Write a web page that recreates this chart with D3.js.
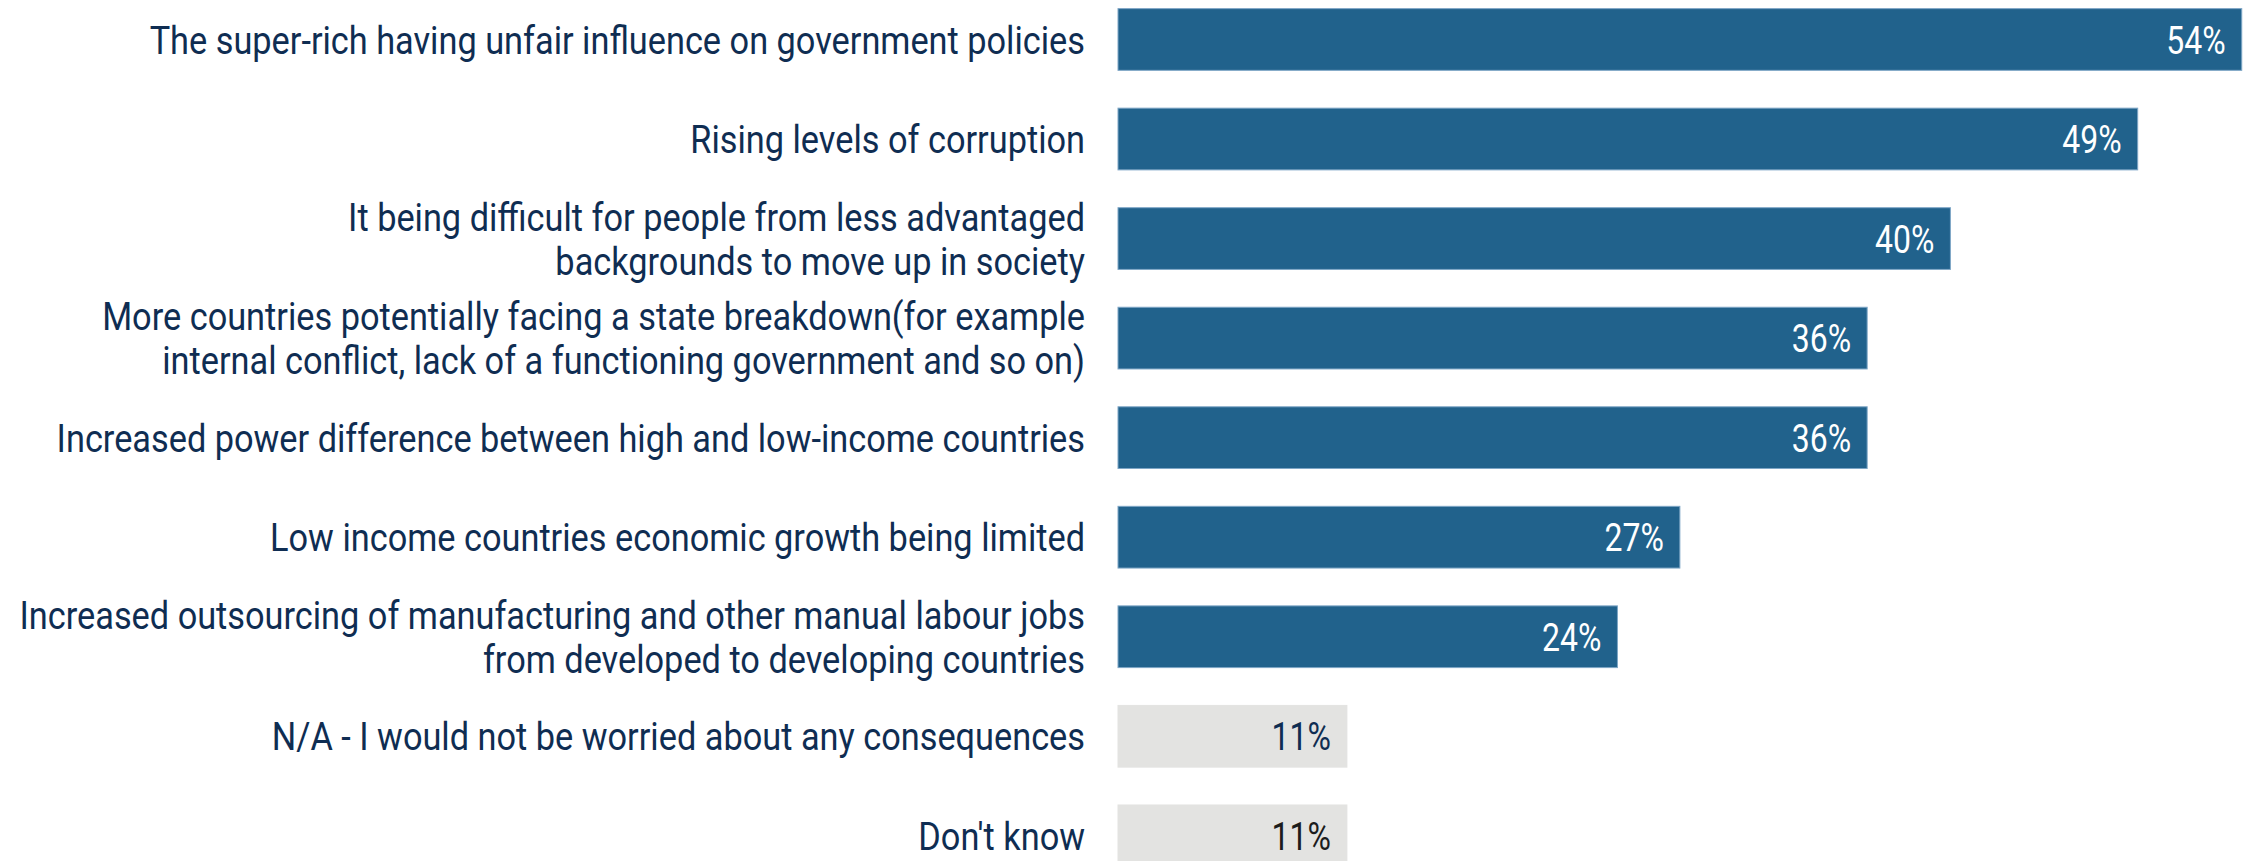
<!DOCTYPE html>
<html>
<head>
<meta charset="utf-8">
<script src="https://cdn.jsdelivr.net/npm/d3@7"></script>
<style>
  html, body { margin: 0; padding: 0; background: #ffffff; }
  svg { display: block; }
  text { font-family: "Roboto", "Liberation Sans", sans-serif; }
</style>
</head>
<body>
<svg id="chart" width="2254" height="861"></svg>
<script>
// Survey responses: worried consequences, share of respondents (%)
const categories = [
  ["The super-rich having unfair influence on government policies"],
  ["Rising levels of corruption"],
  ["It being difficult for people from less advantaged", "backgrounds to move up in society"],
  ["More countries potentially facing a state breakdown(for example", "internal conflict, lack of a functioning government and so on)"],
  ["Increased power difference between high and low-income countries"],
  ["Low income countries economic growth being limited"],
  ["Increased outsourcing of manufacturing and other manual labour jobs", "from developed to developing countries"],
  ["N/A - I would not be worried about any consequences"],
  ["Don't know"]
];
const values = [54, 49, 40, 36, 36, 27, 24, 11, 11];
const kinds = ["main", "main", "main", "main", "main", "main", "main", "other", "other"];

const W = 2254, H = 861;
const barLeft = 1118;
const pxPerPct = 20.81;
const narrowValue = 0.82;  // horizontal squeeze for the condensed look of the type
const narrowLabel = 0.88;

const svg = d3.select("#chart");

const idx = d3.range(values.length);
const y = d3.scaleBand()
  .domain(idx)
  .range([-10.3, 885.6])
  .paddingInner(0.38)
  .paddingOuter(0.19);

const x = d3.scaleLinear()
  .domain([0, 54])
  .range([barLeft, barLeft + 54 * pxPerPct]);

const barFill = { main: "#21628c", other: "#e3e3e1" };
const barStroke = { main: "#7ea6c6", other: "#e3e3e1" };
const valueColor = ["#ffffff", "#ffffff", "#ffffff", "#ffffff", "#ffffff", "#ffffff", "#ffffff", "#0f2d52", "#1c1c1c"];

const rows = svg.selectAll("g.row")
  .data(idx)
  .join("g")
  .attr("class", "row");

rows.append("rect")
  .attr("x", x(0))
  .attr("y", i => y(i))
  .attr("width", i => x(values[i]) - x(0))
  .attr("height", y.bandwidth())
  .attr("fill", i => barFill[kinds[i]])
  .attr("stroke", i => barStroke[kinds[i]])
  .attr("stroke-width", 1);

rows.append("text")
  .attr("transform", i => `translate(${x(values[i]) - 16},${y(i) + y.bandwidth() / 2}) scale(${narrowValue},1)`)
  .attr("dy", "0.36em")
  .attr("text-anchor", "end")
  .attr("font-size", 39)
  .attr("fill", i => valueColor[i])
  .text(i => values[i] + "%");

// Category labels, right-aligned against the bars
const lineH = 44;
rows.append("text")
  .attr("text-anchor", "end")
  .attr("font-size", 39)
  .attr("fill", "#0f2d52")
  .attr("transform", i => `translate(${barLeft - 33},${y(i) + y.bandwidth() / 2}) scale(${narrowLabel},1)`)
  .each(function(i) {
    const lines = categories[i];
    const t = d3.select(this);
    lines.forEach((ln, k) => {
      t.append("tspan")
        .attr("x", 0)
        .attr("y", (k - (lines.length - 1) / 2) * lineH)
        .attr("dy", "0.36em")
        .text(ln);
    });
  });
</script>
</body>
</html>
